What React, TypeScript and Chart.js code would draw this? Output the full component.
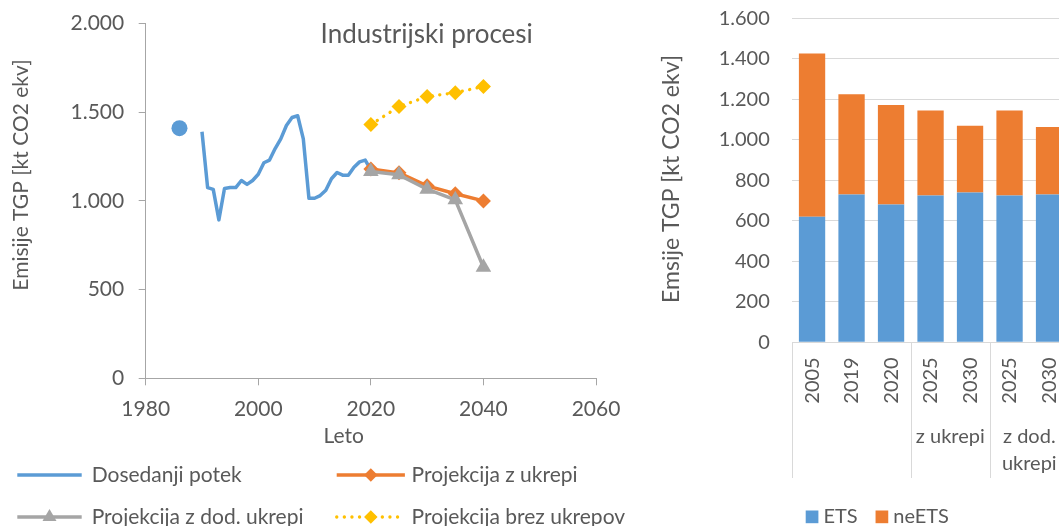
import React, { useEffect, useRef } from 'react';
import { Chart, registerables } from 'chart.js';

Chart.register(...registerables);

const FONT_FAMILY = 'Lato, "Open Sans", sans-serif';
const TEXT_COLOR = '#595959';
const AXIS_COLOR = '#A6A6A6';
const GRID_COLOR = '#D9D9D9';
const BLUE = '#5B9BD5';
const ORANGE = '#ED7D31';
const GRAY = '#A5A5A5';
const YELLOW = '#FFC000';

// ---------- Left chart data ----------
const historyYears = [
  1986, 1987, 1988, 1989, 1990, 1991, 1992, 1993, 1994, 1995, 1996, 1997, 1998, 1999,
  2000, 2001, 2002, 2003, 2004, 2005, 2006, 2007, 2008, 2009, 2010, 2011, 2012, 2013,
  2014, 2015, 2016, 2017, 2018, 2019, 2020,
];
const historyValues = [
  1410, null, null, null, 1390, 1075, 1065, 893, 1070, 1075, 1075, 1115, 1093, 1115,
  1150, 1215, 1230, 1295, 1350, 1425, 1470, 1480, 1350, 1015, 1015, 1030, 1060, 1125,
  1160, 1145, 1145, 1190, 1220, 1230, 1175,
];
const projectionYears = [2020, 2025, 2030, 2035, 2040];
const withMeasures = [1180, 1158, 1085, 1040, 1000];
const withAdditionalMeasures = [1166, 1147, 1066, 1006, 626];
const withoutMeasures = [1430, 1532, 1588, 1610, 1645];
const xTickYears = { min: 1980, max: 2060, step: 20 };
const yTickValues = { min: 0, max: 2000, step: 500 };

// ---------- Right chart data ----------
const barYears = ['2005', '2019', '2020', '2025', '2030', '2025', '2030'];
const etsValues = [620, 730, 680, 725, 740, 725, 730];
const neEtsValues = [806, 495, 492, 420, 330, 420, 333];
const groupLabels = [[], ['z ukrepi'], ['z dod.', 'ukrepi']];
const groupSizes = [3, 2, 2];
const barTicks = { min: 0, max: 1600, step: 200 };

const fmt = (v: number) => String(v).replace(/\B(?=(\d{3})+(?!\d))/g, '.');
const font = (size: number) => `${size}px ${FONT_FAMILY}`;

function pts(xs: number[], ys: (number | null)[]) {
  return xs.map((x, i) => ({ x, y: ys[i] }));
}

function drawMarker(ctx: CanvasRenderingContext2D, style: string, x: number, y: number, r: number, color: string) {
  ctx.save();
  ctx.fillStyle = color;
  ctx.beginPath();
  if (style === 'rectRot') {
    ctx.moveTo(x - r, y);
    ctx.lineTo(x, y - r);
    ctx.lineTo(x + r, y);
    ctx.lineTo(x, y + r);
  } else if (style === 'triangle') {
    ctx.moveTo(x, y - r);
    ctx.lineTo(x + 0.866 * r, y + 0.5 * r);
    ctx.lineTo(x - 0.866 * r, y + 0.5 * r);
  } else {
    ctx.arc(x, y, r, 0, Math.PI * 2);
  }
  ctx.closePath();
  ctx.fill();
  ctx.restore();
}

const leftDecor = {
  id: 'leftDecor',
  afterDraw(chart: any) {
    const ctx: CanvasRenderingContext2D = chart.ctx;
    ctx.save();
    ctx.fillStyle = TEXT_COLOR;
    // chart title
    ctx.font = font(26);
    ctx.textAlign = 'center';
    ctx.textBaseline = 'alphabetic';
    ctx.fillText('Industrijski procesi', 426.7, 43.3);
    // x axis title
    ctx.font = font(21);
    ctx.fillText('Leto', 343.7, 443.3);
    // y axis title
    ctx.save();
    ctx.translate(21.7, 175);
    ctx.rotate(-Math.PI / 2);
    ctx.font = font(21);
    ctx.textBaseline = 'middle';
    ctx.fillText('Emisije TGP [kt CO2 ekv]', 0, 0);
    ctx.restore();

    // legend (2 columns)
    const ds = chart.data.datasets;
    const cols = [{ x0: 17.3, x1: 81.7, tx: 91.7 }, { x0: 336.7, x1: 404.9, tx: 411.6 }];
    const rows = [475, 517];
    ds.forEach((d: any, i: number) => {
      const c = cols[i % 2];
      const y = rows[Math.floor(i / 2)];
      ctx.save();
      ctx.strokeStyle = d.borderColor;
      ctx.lineWidth = d.borderWidth;
      ctx.lineCap = d.borderCapStyle || 'butt';
      ctx.setLineDash(d.borderDash || []);
      ctx.beginPath();
      ctx.moveTo(c.x0, y);
      ctx.lineTo(c.x1, y);
      ctx.stroke();
      ctx.restore();
      if (typeof d.pointRadius === 'number' && d.pointRadius > 0) {
        drawMarker(ctx, d.pointStyle, (c.x0 + c.x1) / 2, y, d.pointRadius * 0.9, d.pointBackgroundColor);
      }
      ctx.font = font(21);
      ctx.textAlign = 'left';
      ctx.textBaseline = 'middle';
      ctx.fillStyle = TEXT_COLOR;
      ctx.fillText(d.label, c.tx, y);
    });
    ctx.restore();
  },
};

const rightDecor = {
  id: 'rightDecor',
  afterDraw(chart: any) {
    const ctx: CanvasRenderingContext2D = chart.ctx;
    const area = chart.chartArea;
    const xs = chart.scales.x;
    ctx.save();
    // y axis title
    ctx.save();
    ctx.fillStyle = TEXT_COLOR;
    ctx.translate(11.7, 179);
    ctx.rotate(-Math.PI / 2);
    ctx.font = font(23);
    ctx.textAlign = 'center';
    ctx.textBaseline = 'middle';
    ctx.fillText('Emsije TGP [kt CO2 ekv]', 0, 0);
    ctx.restore();

    // group separators and group labels
    const half = (xs.getPixelForValue(1) - xs.getPixelForValue(0)) / 2;
    const lineBottom = 478;
    ctx.strokeStyle = GRID_COLOR;
    ctx.lineWidth = 1;
    let start = 0;
    const edges: number[] = [xs.getPixelForValue(0) - half];
    groupSizes.forEach((size) => {
      const end = start + size - 1;
      edges.push(xs.getPixelForValue(end) + half);
      start += size;
    });
    edges.forEach((ex) => {
      const px = Math.round(ex) + 0.5;
      ctx.beginPath();
      ctx.moveTo(px, area.bottom);
      ctx.lineTo(px, lineBottom);
      ctx.stroke();
    });
    ctx.fillStyle = TEXT_COLOR;
    ctx.font = font(20);
    ctx.textAlign = 'center';
    ctx.textBaseline = 'alphabetic';
    groupLabels.forEach((lines, gi) => {
      const cx = (edges[gi] + edges[gi + 1]) / 2;
      lines.forEach((t, li) => ctx.fillText(t, cx, 443.3 + li * 26.7));
    });

    // legend
    const ds = chart.data.datasets;
    let x = 145.7;
    const box = 12.7;
    ctx.font = font(20);
    ctx.textAlign = 'left';
    ds.forEach((d: any) => {
      ctx.fillStyle = d.backgroundColor;
      ctx.fillRect(x, 510.5, box, box);
      x += box + 5;
      ctx.fillStyle = TEXT_COLOR;
      ctx.fillText(d.label, x, 523.3);
      x += ctx.measureText(d.label).width + 18;
    });
    ctx.restore();
  },
};

export default function App() {
  const leftRef = useRef<HTMLCanvasElement>(null);
  const rightRef = useRef<HTMLCanvasElement>(null);

  useEffect(() => {
    const tickFont = { family: FONT_FAMILY, size: 21 };
    const left = new Chart(leftRef.current as HTMLCanvasElement, {
      type: 'line',
      data: {
        datasets: [
          {
            label: 'Dosedanji potek',
            data: pts(historyYears, historyValues),
            borderColor: BLUE,
            backgroundColor: BLUE,
            borderWidth: 3.5,
            pointStyle: 'circle',
            pointRadius: (c: any) => (c.dataIndex === 0 ? 8 : 0),
            pointBackgroundColor: BLUE,
            pointBorderWidth: 0,
            spanGaps: false,
            tension: 0,
            borderJoinStyle: 'round',
            order: 4,
          },
          {
            label: 'Projekcija z ukrepi',
            data: pts(projectionYears, withMeasures),
            borderColor: ORANGE,
            backgroundColor: ORANGE,
            borderWidth: 3.5,
            pointStyle: 'rectRot',
            pointRadius: 7.5,
            pointBackgroundColor: ORANGE,
            pointBorderWidth: 0,
            tension: 0,
            borderJoinStyle: 'round',
            order: 3,
          },
          {
            label: 'Projekcija z dod. ukrepi',
            data: pts(projectionYears, withAdditionalMeasures),
            borderColor: GRAY,
            backgroundColor: GRAY,
            borderWidth: 3.5,
            pointStyle: 'triangle',
            pointRadius: 9,
            pointBackgroundColor: GRAY,
            pointBorderWidth: 0,
            tension: 0,
            borderJoinStyle: 'round',
            order: 2,
          },
          {
            label: 'Projekcija brez ukrepov',
            data: pts(projectionYears, withoutMeasures),
            borderColor: YELLOW,
            backgroundColor: YELLOW,
            borderWidth: 3.3,
            borderDash: [0.1, 7.5],
            borderCapStyle: 'round',
            pointStyle: 'rectRot',
            pointRadius: 7.5,
            pointBackgroundColor: YELLOW,
            pointBorderWidth: 0,
            tension: 0,
            order: 1,
          },
        ] as any,
      },
      options: {
        animation: false,
        responsive: false,
        maintainAspectRatio: false,
        devicePixelRatio: 1,
        layout: { padding: { left: 0, right: 64, top: 23.5, bottom: 0 } },
        plugins: { legend: { display: false }, tooltip: { enabled: false }, title: { display: false } },
        scales: {
          x: {
            type: 'linear',
            min: xTickYears.min,
            max: xTickYears.max,
            ticks: { stepSize: xTickYears.step, color: TEXT_COLOR, font: tickFont, padding: 11, callback: (v: any) => String(v) },
            grid: { drawOnChartArea: false, drawTicks: true, tickLength: 7, color: AXIS_COLOR },
            border: { display: true, color: AXIS_COLOR },
            afterFit: (s: any) => { s.height = 526 - 378.3; s.paddingLeft = 0; s.paddingRight = 0; },
          },
          y: {
            min: yTickValues.min,
            max: yTickValues.max,
            ticks: { stepSize: yTickValues.step, color: TEXT_COLOR, font: tickFont, padding: 14.5, callback: (v: any) => fmt(v) },
            grid: { drawOnChartArea: false, drawTicks: true, tickLength: 7, color: AXIS_COLOR },
            border: { display: true, color: AXIS_COLOR },
            afterFit: (s: any) => { s.width = 145.7; s.paddingTop = 0; s.paddingBottom = 0; },
          },
        },
      } as any,
      plugins: [leftDecor],
    });

    const right = new Chart(rightRef.current as HTMLCanvasElement, {
      type: 'bar',
      data: {
        labels: barYears,
        datasets: [
          { label: 'ETS', data: etsValues, backgroundColor: BLUE },
          { label: 'neETS', data: neEtsValues, backgroundColor: ORANGE },
        ],
      },
      options: {
        animation: false,
        responsive: false,
        maintainAspectRatio: false,
        devicePixelRatio: 1,
        layout: { padding: { left: 0, right: 11.2, top: 18.3, bottom: 0 } },
        datasets: { bar: { categoryPercentage: 1, barPercentage: 0.666 } },
        plugins: { legend: { display: false }, tooltip: { enabled: false } },
        scales: {
          x: {
            stacked: true,
            grid: { display: false },
            border: { display: false },
            ticks: { minRotation: 90, maxRotation: 90, autoSkip: false, padding: 7, color: TEXT_COLOR, font: { family: FONT_FAMILY, size: 20 } },
            afterFit: (s: any) => { s.height = 526 - 342.3; s.paddingLeft = 0; s.paddingRight = 0; },
          },
          y: {
            stacked: true,
            min: barTicks.min,
            max: barTicks.max,
            ticks: { stepSize: barTicks.step, padding: 22.5, color: TEXT_COLOR, font: { family: FONT_FAMILY, size: 20 }, callback: (v: any) => fmt(v) },
            grid: { color: GRID_COLOR, drawTicks: false, lineWidth: 1 },
            border: { display: false },
            afterFit: (s: any) => { s.width = 132.3; s.paddingTop = 0; s.paddingBottom = 0; },
          },
        },
      } as any,
      plugins: [rightDecor],
    });

    return () => {
      left.destroy();
      right.destroy();
    };
  }, []);

  return (
    <div style={{ position: 'fixed', left: 0, top: 0, width: 1059, height: 526, overflow: 'hidden', background: '#ffffff' }}>
      <canvas ref={leftRef} width={660} height={526} style={{ position: 'absolute', left: 0, top: 0, width: 660, height: 526 }} />
      <canvas ref={rightRef} width={420} height={526} style={{ position: 'absolute', left: 660, top: 0, width: 420, height: 526 }} />
    </div>
  );
}
